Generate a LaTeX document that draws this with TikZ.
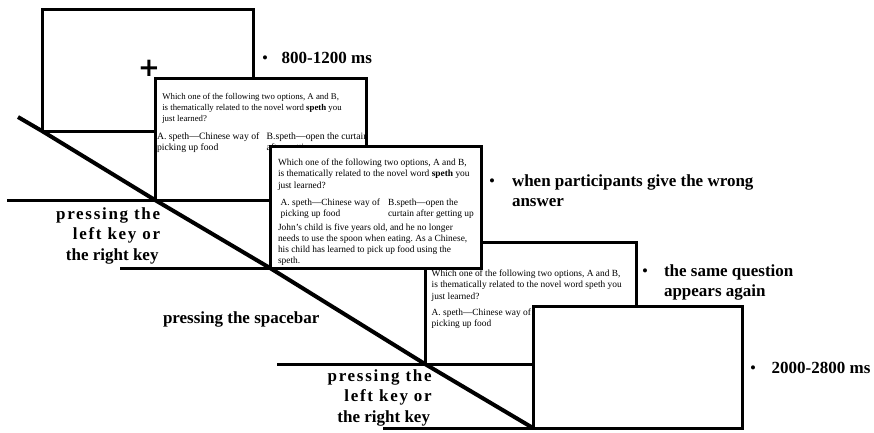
\documentclass[tikz,border=0pt]{standalone}
\usepackage{fontspec}
\setmainfont{Liberation Serif}
\newfontfamily\crossfont{DejaVu Sans}
\frenchspacing
\tikzset{
  screen/.style={draw=black, line width=3pt, fill=white, minimum width=211.5pt,
    minimum height=122pt, anchor=south west, inner sep=0pt, outer sep=0pt},
  floorline/.style={line width=3pt},
  timeline/.style={line width=4pt, line join=round},
  qtext/.style={anchor=base west, inner sep=0pt, outer sep=0pt, align=left,
    font=\fontsize{9.4}{11.5}\selectfont},
  lbl/.style={anchor=base west, inner sep=0pt, outer sep=0pt, align=left,
    font=\fontsize{17}{20.3}\selectfont\bfseries},
  bul/.style={anchor=base, inner sep=0pt, outer sep=0pt,
    font=\fontsize{17}{20.3}\selectfont},
  fixcross/.style={inner sep=0pt, outer sep=0pt,
    font=\fontsize{26}{26}\selectfont\crossfont\bfseries},
}
\begin{document}
\begin{tikzpicture}[x=1pt,y=-1pt]
\useasboundingbox (0,0) rectangle (874,432);
% (multi-line text nodes are placed by the baseline of their last line)

% screen 1: fixation
\node[screen] (b1) at (42,131) {};
\node[fixcross] (fix) at (149,68) {+};

% screen 2: question
\node[screen] (b2) at (155,200) {};
\begin{scope}
  \clip (b2.south west) rectangle (b2.north east);
  \node[qtext, font=\fontsize{8.8}{11.2}\selectfont] (q2) at (162.3,121.4)
    {Which one of the following two options, A and B,\\is thematically related to the novel word \textbf{speth} you\\just learned?};
  \node[qtext, font=\fontsize{9.7}{11}\selectfont] (a2) at (157,150)
    {A. speth—Chinese way of\\picking up food};
  \node[qtext, font=\fontsize{9.7}{11}\selectfont] (bo2) at (266.7,150)
    {B.speth—open the curtain\\after getting up};
\end{scope}

% screen 4: question again
\node[screen] (b4) at (425,364) {};
\node[qtext] (q4) at (431.7,299)
  {Which one of the following two options, A and B,\\is thematically related to the novel word speth you\\just learned?};
\node[qtext] (a4) at (431.7,326.5) {A. speth—Chinese way of\\picking up food};

% screen 3: feedback
\node[screen] (b3) at (270,268) {};
\node[qtext] (q3) at (278,188)
  {Which one of the following two options, A and B,\\is thematically related to the novel word \textbf{speth} you\\just learned?};
\node[qtext] (a3) at (280.7,216.5) {A. speth—Chinese way of\\picking up food};
\node[qtext] (bo3) at (388,216.5) {B.speth—open the\\curtain after getting up};
\node[qtext, font=\fontsize{9.4}{11.1}\selectfont] (s3) at (278,263.3)
  {John's child is five years old, and he no longer\\needs to use the spoon when eating. As a Chinese,\\his child has learned to pick up food using the\\speth.};

% screen 5: blank
\node[screen, minimum width=209pt] (b5) at (533,428) {};

% floor lines and time line
\coordinate (f1) at (7,200);
\coordinate (f2) at (120,268);
\coordinate (f3) at (277,364);
\coordinate (f4) at (383,428);
\coordinate (t0) at (18,117);
\draw[floorline] (f1) -- (b2.south west);
\draw[floorline] (f2) -- (b3.south west);
\draw[floorline] (f3) -- (b4.south west);
\draw[floorline] (f4) -- (b5.south west);
\draw[timeline] (t0) -- (b1.south west) -- (b2.south west) -- (b3.south west)
  -- (b4.south west) -- (b5.south west);

% labels
\node[bul] (u1) at (265,63.5) {•};
\node[lbl] (l1) at (281.7,63.5) {800-1200 ms};
\node[bul] (u2) at (492,186.5) {•};
\node[lbl] (l2) at (512,206.5) {when participants give the wrong\\answer};
\node[bul] (u3) at (645,276.5) {•};
\node[lbl] (l3) at (664,296.5) {the same question\\appears again};
\node[bul] (u4) at (753,373.5) {•};
\node[lbl] (l4) at (771.7,373.5) {2000-2800 ms};

\node[lbl, align=right, anchor=base east] (k1) at (158.5,260)
  {{\addfontfeature{LetterSpace=10}pressing the\kern-1.7pt}\\{\addfontfeature{LetterSpace=10}left key or\kern-1.7pt}\\the right key};
\node[lbl] (sp) at (163,323) {pressing the spacebar};
\node[lbl, align=right, anchor=base east] (k2) at (430,422)
  {{\addfontfeature{LetterSpace=10}pressing the\kern-1.7pt}\\{\addfontfeature{LetterSpace=10}left key or\kern-1.7pt}\\the right key};
\end{tikzpicture}
\end{document}
